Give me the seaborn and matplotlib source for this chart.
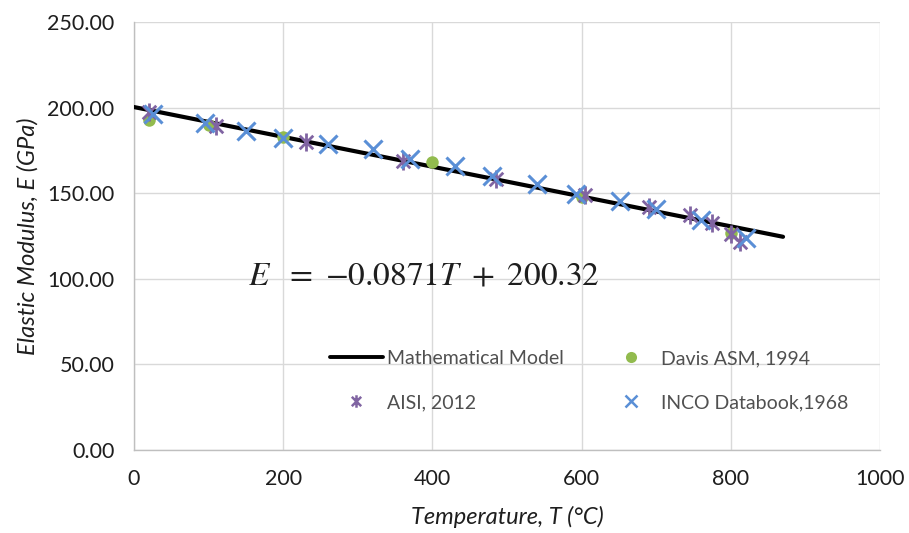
import numpy as np
import pandas as pd
import matplotlib
matplotlib.use("Agg")
import matplotlib.pyplot as plt
from matplotlib.path import Path
from matplotlib.lines import Line2D
import seaborn as sns

# ---- data ----
model_T = [0, 870]
model_E = [200.32 - 0.0871 * t for t in model_T]

davis_T = [20, 100, 200, 400, 600, 800]
davis_E = [192.5, 190.0, 183.0, 168.0, 148.0, 127.0]

aisi_T = [20, 110, 230, 360, 485, 605, 690, 745, 775, 800, 812]
aisi_E = [197.5, 189.0, 180.0, 169.0, 158.5, 149.0, 142.0, 137.0, 132.5, 126.0, 121.5]

inco_T = [25, 95, 150, 200, 260, 320, 370, 430, 480, 540, 592, 652, 700, 760, 820]
inco_E = [196.0, 191.0, 186.5, 182.5, 179.0, 176.0, 170.0, 166.0, 160.0, 155.5, 149.5, 145.5, 141.0, 134.5, 124.0]

x_ticks = [0, 200, 400, 600, 800, 1000]
y_ticks = [0, 50, 100, 150, 200, 250]

labels = ["Mathematical Model", "AISI, 2012", "Davis ASM, 1994", "INCO Databook,1968"]
c_model = "black"
c_davis = "#92BB4E"
c_aisi = "#8064A2"
c_inco = "#5A8FD6"

# ---- style ----
sns.set_theme(style="white")
plt.rcParams["font.family"] = ["Lato", "DejaVu Sans"]
plt.rcParams["mathtext.fontset"] = "stix"

fig = plt.figure(figsize=(9.09, 5.33), dpi=100)
ax = fig.add_axes([134 / 909, 83 / 533, 746 / 909, 428 / 533])

star_path = Path(
    [(0, -1), (0, 1), (-0.75, -0.75), (0.75, 0.75), (-0.75, 0.75), (0.75, -0.75)],
    [Path.MOVETO, Path.LINETO, Path.MOVETO, Path.LINETO, Path.MOVETO, Path.LINETO],
)

df_model = pd.DataFrame({"T": model_T, "E": model_E})
df_davis = pd.DataFrame({"T": davis_T, "E": davis_E})
df_aisi = pd.DataFrame({"T": aisi_T, "E": aisi_E})
df_inco = pd.DataFrame({"T": inco_T, "E": inco_E})

sns.lineplot(data=df_model, x="T", y="E", ax=ax, color=c_model, linewidth=3.0,
             estimator=None, sort=False, zorder=3)
sns.lineplot(data=df_davis, x="T", y="E", ax=ax, color=c_davis, linestyle="none",
             marker="o", markersize=9, markeredgewidth=0, estimator=None, sort=False, zorder=4)
sns.lineplot(data=df_aisi, x="T", y="E", ax=ax, color=c_aisi, linestyle="none",
             marker=star_path, markersize=13, markerfacecolor="none",
             markeredgecolor=c_aisi, markeredgewidth=2.0, estimator=None, sort=False, zorder=5)
sns.lineplot(data=df_inco, x="T", y="E", ax=ax, color=c_inco, linestyle="none",
             marker="x", markersize=13, markeredgecolor=c_inco, markeredgewidth=2.2,
             estimator=None, sort=False, zorder=6)

ax.set_xlim(0, 1000)
ax.set_ylim(0, 250)
ax.set_xticks(x_ticks)
ax.set_yticks(y_ticks)
ax.set_xticklabels([str(v) for v in x_ticks])
ax.set_yticklabels([f"{v:.2f}" for v in y_ticks])
ax.tick_params(axis="both", length=0, labelsize=15.5, colors="#1e1e1e")
ax.tick_params(axis="y", pad=14)
ax.tick_params(axis="x", pad=14)
ax.grid(True, color="#d9d9d9", linewidth=1.0)
for s in ["top", "right"]:
    ax.spines[s].set_visible(False)
for s in ["left", "bottom"]:
    ax.spines[s].set_color("#bfbfbf")
    ax.spines[s].set_linewidth(1.0)

ax.set_xlabel("Temperature, T (°C)", fontsize=17, style="italic", color="#1e1e1e", labelpad=12)
ax.set_ylabel("Elastic Modulus, E (GPa)", fontsize=17, style="italic", color="#1e1e1e", labelpad=6)

ax.text(153, 102, r"$E\ \ =\ {-}0.0871T\ +\ 200.32$", fontsize=24, color="#1e1e1e",
        ha="left", va="center", zorder=7)

handles = [
    Line2D([], [], color=c_model, linewidth=2.8),
    Line2D([], [], linestyle="none", marker=star_path, markersize=9, markerfacecolor="none",
           markeredgecolor=c_aisi, markeredgewidth=1.8),
    Line2D([], [], linestyle="none", marker="o", markersize=8, color=c_davis, markeredgewidth=0),
    Line2D([], [], linestyle="none", marker="x", markersize=8, markeredgecolor=c_inco,
           markeredgewidth=1.8),
]
ax.legend(handles, labels, ncol=2, loc="upper left", bbox_to_anchor=(0.263, 0.233),
          frameon=False, fontsize=14, handlelength=2.7, handletextpad=0.2,
          columnspacing=2.1, labelspacing=1.38, borderpad=0, borderaxespad=0,
          labelcolor="#505050")

fig.savefig("out.png", dpi=100)
